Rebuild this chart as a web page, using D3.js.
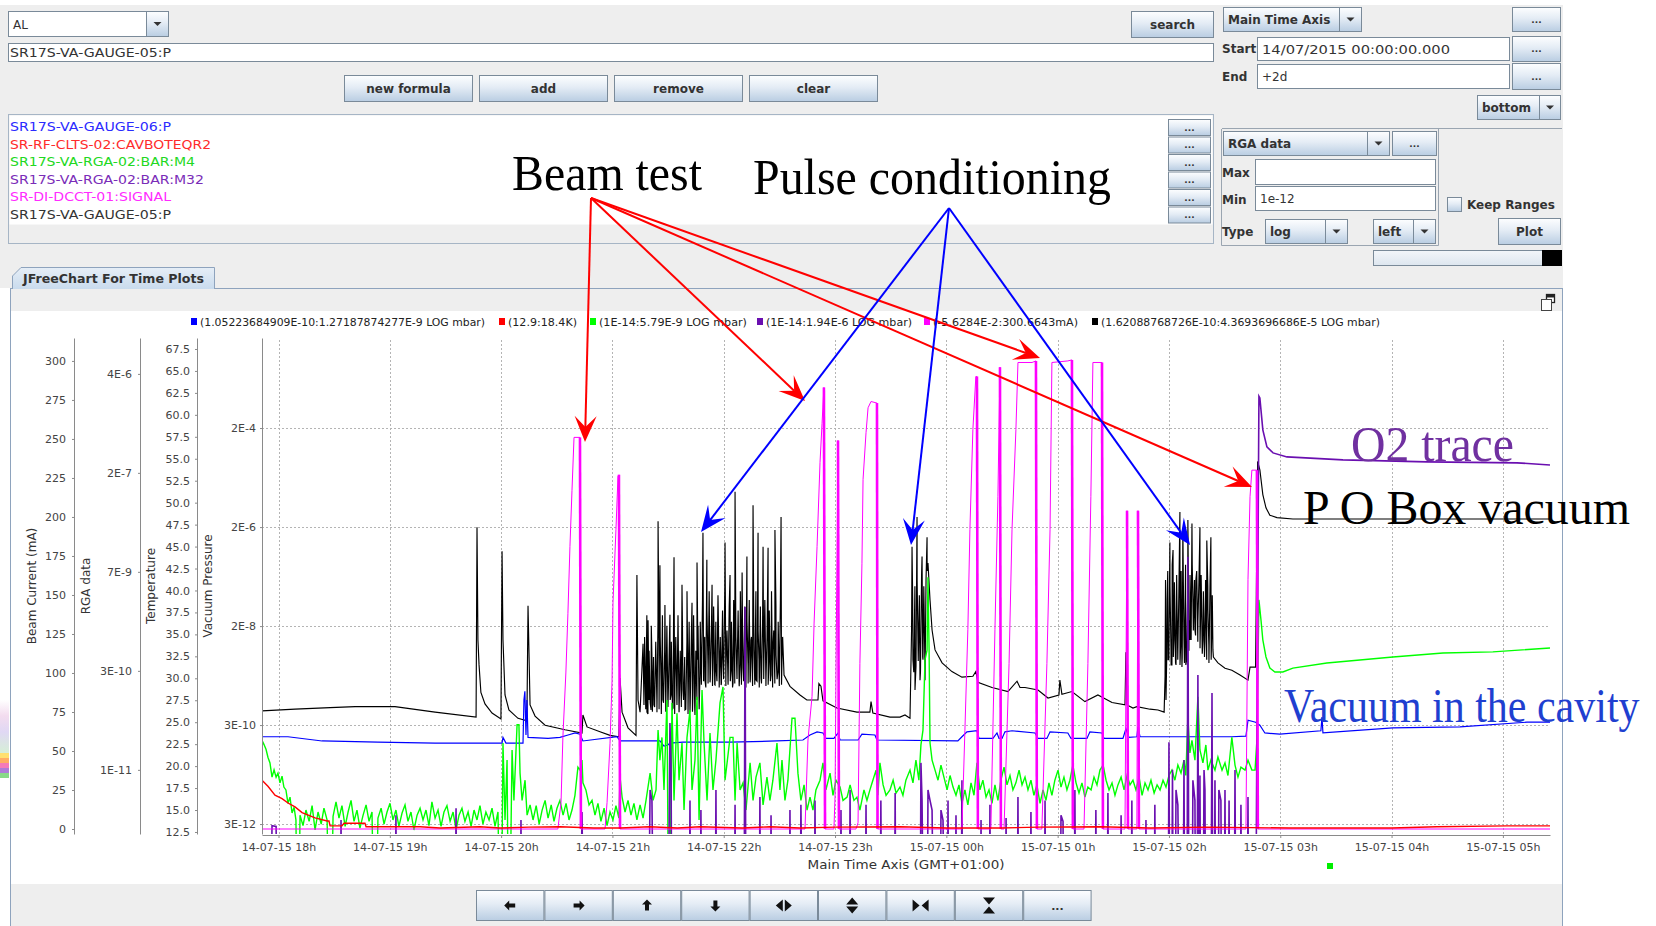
<!DOCTYPE html>
<html><head><meta charset="utf-8">
<script src="https://cdn.jsdelivr.net/npm/d3@7"></script>
<style>body{margin:0;background:#fff;overflow:hidden}svg{display:block;font-family:"DejaVu Sans",sans-serif}</style>
</head><body><svg id="c" width="1656" height="926"></svg>
<script>
// ================= DATA =================
const signalNames = ["SR17S-VA-GAUGE-06:P","SR-RF-CLTS-02:CAVBOTEQR2","SR17S-VA-RGA-02:BAR:M4","SR17S-VA-RGA-02:BAR:M32","SR-DI-DCCT-01:SIGNAL","SR17S-VA-GAUGE-05:P"];
const legendLabels = ["(1.05223684909E-10:1.27187874277E-9 LOG mbar)","(12.9:18.4K)","(1E-14:5.79E-9 LOG mbar)","(1E-14:1.94E-6 LOG mbar)","(-5.6284E-2:300.6643mA)","(1.62088768726E-10:4.3693696686E-5 LOG mbar)"];
const seriesColors = ["#0000ff","#ff0000","#00ff00","#6a0fb0","#ff00ff","#000000"];
const listColors = ["#2b2bff","#ff2b2b","#22d822","#7a2cb8","#ff2bff","#333333"];

const timeTickMinutes = [0,60,120,180,240,300,360,420,480,540,600,660];   // minutes after 14-07-15 18:00
const timeTickLabels = ["14-07-15 18h","14-07-15 19h","14-07-15 20h","14-07-15 21h","14-07-15 22h","14-07-15 23h","15-07-15 00h","15-07-15 01h","15-07-15 02h","15-07-15 03h","15-07-15 04h","15-07-15 05h"];
const timeRangeMinutes = [-8.9, 685.4];
const beamTicks = [0,25,50,75,100,125,150,175,200,225,250,275,300];
const beamRange = [-3.2, 314.7];
const tempTicks = [12.5,15,17.5,20,22.5,25,27.5,30,32.5,35,37.5,40,42.5,45,47.5,50,52.5,55,57.5,60,62.5,65,67.5];
const tempRange = [12.27, 68.75];
const rgaTickValues = [3.98e-6,1.66e-7,6.92e-9,2.88e-10,1.20e-11];
const rgaTickLabels = ["4E-6","2E-7","7E-9","3E-10","1E-11"];
const rgaRange = [1.53e-12, 1.26e-5];
const vacTickValues = [2.0e-4,2.21e-6,2.45e-8,2.72e-10,3.02e-12];
const vacTickLabels = ["2E-4","2E-6","2E-8","3E-10","3E-12"];
const vacRange = [1.92e-12, 1.20e-2];

// [minutes after 18:00, value]
const gauge05 = [
[-8.9,5.2e-10],[8.9,5.6e-10],[27.8,6.0e-10],[41.3,6.3e-10],[62.8,6.3e-10],[84.4,4.9e-10],[106.5,3.9e-10],
[107.0,2.2e-6],[107.5,1.3e-8],[108.1,4.2e-9],[109.1,1.2e-9],[111.3,7.1e-10],[115.1,4.7e-10],[119.9,3.6e-10],
[120.5,7.4e-7],[121.0,1.3e-8],[122.1,1.07e-9],[124.2,5.4e-10],[129.1,3.7e-10],[133.9,3.3e-10],
[134.5,6.2e-8],[135.6,6.8e-10],[138.3,4.1e-10],[143.7,2.7e-10],[154.4,2.2e-10],[163.6,1.9e-10],
[164.1,4.3e-10],[166.3,2.5e-10],[173.3,2.0e-10],[178.7,1.7e-10],[183.5,1.6e-10],
[184.1,2.3e-9],[185.2,4.9e-10],[188.4,2.4e-10],[192.7,1.7e-10],
[193.2,2.5e-7],[193.8,8.5e-10],[194.9,4.9e-10],[196.5,1.1e-8],[197.0,6.8e-10],[198.6,4.9e-10],
[199.2,3.2e-8],[199.7,8.5e-10],[200.8,5.4e-10],[201.3,5.9e-9],[202.4,6.8e-10],[204.0,4.9e-10],
[204.6,2.9e-6],[205.1,1.3e-8],[205.6,3.9e-7],[206.2,2.1e-9],[207.2,8.5e-10],[208.3,6.4e-8],[208.9,1.34e-9],[209.9,6.8e-10],
[211.0,4.1e-8],[211.6,1.07e-9],[212.7,5.9e-10],[213.2,5.6e-7],[213.7,2.1e-9],[214.8,6.8e-10],[215.9,4.9e-10],
[217.5,1.6e-7],[218.0,1.34e-9],[219.1,5.4e-10],[220.2,1.2e-7],[220.7,1.34e-9],[221.8,4.9e-10],
[222.9,7.1e-8],[223.4,1.07e-9],[224.5,4.3e-10],[225.6,4.4e-7],[226.1,5.3e-9],[227.2,2.65e-9],[227.7,5.3e-9],
[228.8,1.7e-6],[229.3,8.3e-9],[229.9,2.1e-9],[230.9,5.0e-7],[231.5,4.2e-9],[232.6,1.9e-9],
[233.7,1.6e-7],[234.2,3.6e-9],[235.3,1.68e-9],[235.8,4.2e-9],[236.9,1.0e-7],[237.5,3.3e-9],[238.6,1.68e-9],[239.6,5.3e-9],
[240.7,1.1e-6],[241.2,3.6e-9],[242.3,1.9e-9],[243.4,2.5e-7],[244.0,3.3e-9],[245.0,1.8e-9],
[246.1,1.1e-5],[246.6,1.3e-8],[247.2,3.3e-9],[248.3,1.68e-9],[248.8,4.2e-9],[249.9,2.8e-7],[250.4,3.6e-9],[251.5,1.8e-9],
[252.5,5.8e-7],[253.1,4.2e-9],[254.2,1.9e-9],[254.7,1.3e-8],[255.8,6.0e-6],[256.3,8.3e-9],[257.4,2.1e-9],
[258.5,1.7e-6],[259.0,5.3e-9],[260.1,2.3e-9],[261.2,9.0e-7],[261.7,6.6e-9],[262.8,2.3e-9],
[263.9,8.6e-7],[264.4,5.3e-9],[265.5,2.65e-9],[266.5,8.3e-9],[267.6,1.94e-6],[268.2,6.6e-9],[269.2,3.0e-9],
[270.9,3.5e-6],[271.4,5.3e-9],[272.5,2.65e-9],[275.7,1.58e-9],[281.1,1.07e-9],[284.8,8.5e-10],[290.8,8.5e-10],
[291.3,1.8e-9],[292.4,1.6e-9],[293.5,8.2e-10],[301.0,5.9e-10],[311.8,4.9e-10],[318.8,4.9e-10],[319.4,7.9e-10],[320.4,4.7e-10],
[329.6,3.9e-10],[335.0,3.9e-10],[337.7,4.3e-10],[340.4,3.7e-10],
[341.5,9.0e-7],[342.0,5.3e-9],[343.1,1.34e-9],[344.2,3.5e-6],[344.7,1.3e-8],[345.8,2.1e-9],[346.9,5.8e-7],[347.4,5.3e-9],[348.5,2.1e-9],
[349.6,1.4e-6],[350.1,4.3e-7],[351.2,8.0e-8],[352.3,2.05e-8],[353.9,8.3e-9],[357.7,4.6e-9],[363.0,3.1e-9],[368.4,2.4e-9],
[374.3,2.5e-9],[375.9,3.1e-9],[377.0,1.9e-9],[384.6,1.5e-9],[393.2,1.25e-9],[398.1,2.0e-9],[399.7,1.5e-9],[402.4,1.5e-9],
[409.4,1.34e-9],[414.8,9.3e-10],[420.7,1.07e-9],[421.2,2.1e-9],[422.3,1.1e-9],[427.7,1.25e-9],[434.7,7.9e-10],[441.7,1.07e-9],
[449.3,7.6e-10],[456.3,6.8e-10],[456.8,7.5e-9],[457.4,6.8e-10],[460.6,5.9e-10],[462.7,6.3e-10],[469.8,5.6e-10],[474.1,5.4e-10],[477.4,4.9e-10],
[477.9,2.5e-9],[478.4,8.5e-10],[479.0,8.0e-8],[479.5,5.3e-9],[480.5,1.1e-6],[481.1,8.3e-9],[481.6,4.2e-9],[482.2,7.8e-7],[482.7,1.3e-8],
[483.8,4.2e-9],[484.3,8.0e-8],[484.8,6.6e-9],[485.9,4.4e-6],[486.4,1.3e-8],[487.0,3.8e-9],[487.5,1.94e-6],[488.1,1.3e-8],[489.1,4.2e-9],
[490.2,3.05e-6],[490.8,3.2e-8],[491.3,1.3e-8],[492.4,2.6e-6],[492.9,8.0e-8],[494.0,2.05e-8],[494.5,2.0e-7],[495.6,3.0e-8],
[496.7,2.2e-6],[497.2,8.0e-8],[498.3,1.3e-8],[499.4,1.2e-8],[500.4,1.2e-6],[501.0,5.1e-8],[501.5,1.04e-8],[502.6,1.4e-6],[503.2,3.2e-8],[503.7,8.3e-9],
[506.4,4.6e-9],[510.2,3.6e-9],[513.9,3.3e-9],[518.3,2.65e-9],[522.6,2.1e-9],[523.7,3.8e-9],[526.7,3.8e-9],
[527.8,4.37e-5],[529.0,3.0e-5],[530.6,9.7e-6],[532.3,5.3e-6],[534.4,3.8e-6],[538.2,3.4e-6],[546.8,3.2e-6],[577.6,3.2e-6],[615.3,3.2e-6],[685.4,3.2e-6]
];
// dense pressure bursts during pulse conditioning (fast oscillation between band edges)
const gauge05Bursts = [
[197.35,1.5e-8],[197.95,5.6e-10],[198.55,4.0e-8],[199.15,4.5e-10],[199.75,8.0e-9],[200.35,7.5e-10],[200.95,2.5e-8],[201.55,5.0e-10],[202.15,6.0e-9],[202.75,6.2e-10],
[203.35,1.2e-8],[203.95,8.5e-10],[204.55,3.0e-8],[205.15,5.6e-10],[205.75,1.5e-8],[206.35,4.5e-10],[206.95,4.0e-8],[207.55,7.5e-10],[208.15,8.0e-9],[208.75,5.0e-10],
[209.35,2.5e-8],[209.95,6.2e-10],[210.55,6.0e-9],[211.15,8.5e-10],[211.75,1.2e-8],[212.35,5.6e-10],[212.95,3.0e-8],[213.55,4.5e-10],[214.15,1.5e-8],[214.75,7.5e-10],
[215.35,4.0e-8],[215.95,5.0e-10],[216.55,8.0e-9],[217.15,6.2e-10],[217.75,2.5e-8],[218.35,8.5e-10],[218.95,6.0e-9],[219.55,5.6e-10],[220.15,1.2e-8],[220.75,4.5e-10],
[221.35,3.0e-8],[221.95,7.5e-10],[222.55,1.5e-8],[223.15,5.0e-10],[223.75,4.0e-8],[224.35,6.2e-10],[224.95,8.0e-9],[225.55,8.5e-10],[226.15,2.5e-8],[226.75,5.6e-10],
[227.35,3.0e-8],[227.95,1.7e-9],[228.55,8.0e-8],[229.15,2.0e-9],[229.75,1.5e-8],[230.35,1.5e-9],[230.95,5.0e-8],[231.55,1.8e-9],[232.15,1.2e-7],[232.75,2.2e-9],
[233.35,2.0e-8],[233.95,1.6e-9],[234.55,6.0e-8],[235.15,1.7e-9],[235.75,3.0e-8],[236.35,2.0e-9],[236.95,8.0e-8],[237.55,1.5e-9],[238.15,1.5e-8],[238.75,1.8e-9],
[239.35,5.0e-8],[239.95,2.2e-9],[240.55,1.2e-7],[241.15,1.6e-9],[241.75,2.0e-8],[242.35,1.7e-9],[242.95,6.0e-8],[243.55,2.0e-9],[244.15,3.0e-8],[244.75,1.5e-9],
[245.35,8.0e-8],[245.95,1.8e-9],[246.55,1.5e-8],[247.15,2.2e-9],[247.75,5.0e-8],[248.35,1.6e-9],[248.95,1.2e-7],[249.55,1.7e-9],[250.15,2.0e-8],[250.75,2.0e-9],
[251.35,6.0e-8],[251.95,1.5e-9],[252.55,3.0e-8],[253.15,1.8e-9],[253.75,8.0e-8],[254.35,2.2e-9],[254.95,1.5e-8],[255.55,1.6e-9],[256.15,5.0e-8],[256.75,1.7e-9],
[257.35,1.2e-7],[257.95,2.0e-9],[258.55,2.0e-8],[259.15,1.5e-9],[259.75,6.0e-8],[260.35,1.8e-9],[260.95,3.0e-8],[261.55,2.2e-9],[262.15,8.0e-8],[262.75,1.6e-9],
[263.35,1.5e-8],[263.95,1.7e-9],[264.55,5.0e-8],[265.15,2.0e-9],[265.75,1.2e-7],[266.35,1.5e-9],[266.95,2.0e-8],[267.55,1.8e-9],[268.15,6.0e-8],[268.75,2.2e-9],
[269.35,3.0e-8],[269.95,1.6e-9],[270.55,8.0e-8],[271.15,1.7e-9],[271.75,1.5e-8],
[341.25,2.0e-8],[341.85,8.0e-8],[342.45,3.0e-9],[343.05,1.5e-7],[343.65,4.0e-9],[344.25,2.0e-7],[344.85,5.0e-9],[345.45,1.0e-7],[346.05,3.0e-9],[346.65,2.5e-7],
[347.25,6.0e-9],[347.85,1.5e-7],[348.45,4.0e-9],[349.05,2.0e-7],[349.65,3.0e-7],
[478.15,2.0e-7],[478.75,4.6e-9],[479.35,3.0e-7],[479.95,5.3e-9],[480.55,1.5e-7],[481.15,4.2e-9],[481.75,4.0e-7],[482.35,6.0e-9],[482.95,1.8e-7],[483.55,4.6e-9],
[484.15,2.5e-7],[484.75,5.3e-9],[485.35,1.2e-7],[485.95,4.2e-9],[486.55,3.0e-7],[487.15,6.0e-9],[487.75,2.0e-7],[488.35,4.6e-9],[488.95,4.0e-7],[489.55,5.3e-9],
[490.15,1.5e-7],[490.75,8.0e-9],[491.35,2.5e-7],[491.95,1.3e-8],[492.55,4.0e-7],[493.15,2.0e-8],[493.75,2.0e-7],[494.35,1.6e-8],[494.95,3.0e-7],[495.55,1.2e-8],
[496.15,1.8e-7],[496.75,9.0e-9],[497.35,2.5e-7],[497.95,7.0e-9],[498.55,1.2e-7],[499.15,6.0e-9],[499.75,2.0e-7],[500.35,5.3e-9],[500.95,1.5e-7],[501.55,4.6e-9],
[502.15,1.8e-7],[502.75,5.3e-9],[503.35,1.0e-7],[503.95,6.0e-9]
];
const gauge06 = [
[-8.9,1.6e-10],[5.1,1.6e-10],[23.5,1.32e-10],[53.6,1.25e-10],[84.4,1.2e-10],[114.0,1.2e-10],[120.5,1.2e-10],[121.0,1.55e-10],[122.6,1.2e-10],
[131.8,1.2e-10],[132.3,8.5e-10],[132.8,1.27e-9],[133.4,1.73e-10],[133.9,8.5e-10],[134.5,1.55e-10],[145.3,1.48e-10],[151.7,1.55e-10],[156.1,1.73e-10],
[159.9,1.9e-10],[162.5,1.8e-10],[164.1,1.32e-10],[182.5,1.6e-10],[184.1,1.32e-10],[205.6,1.32e-10],[207.8,1.05e-10],[209.9,1.1e-10],[211.0,1.2e-10],
[218.0,1.25e-10],[243.4,1.25e-10],[268.7,1.32e-10],[282.7,1.38e-10],[286.5,1.73e-10],[290.3,2.0e-10],[293.5,1.9e-10],[295.1,1.48e-10],[299.4,1.48e-10],
[301.6,1.9e-10],[302.7,1.38e-10],[312.4,1.38e-10],[314.5,1.8e-10],[321.5,1.73e-10],[322.6,1.38e-10],[366.2,1.32e-10],[368.4,1.6e-10],[371.1,2.0e-10],
[376.5,2.1e-10],[377.6,1.48e-10],[385.1,1.48e-10],[387.3,1.9e-10],[388.4,1.48e-10],[390.0,1.48e-10],[391.6,2.0e-10],[395.4,2.1e-10],[407.8,1.9e-10],
[409.4,1.48e-10],[414.2,1.48e-10],[415.9,2.0e-10],[425.5,1.9e-10],[427.2,1.48e-10],[435.8,1.48e-10],[437.4,2.0e-10],[443.9,1.9e-10],[445.0,1.48e-10],
[455.2,1.48e-10],[456.8,2.3e-10],[458.4,1.55e-10],[462.7,1.6e-10],[463.3,2.5e-10],[464.4,1.6e-10],[513.9,1.6e-10],[521.5,1.65e-10],[522.6,3.4e-10],
[526.7,3.1e-10],[529.0,2.7e-10],[531.7,1.9e-10],[539.8,1.8e-10],[561.9,2.1e-10],[562.5,3.9e-10],[563.0,1.9e-10],[600.7,2.4e-10],[636.9,2.5e-10],[673.0,3.1e-10],[685.4,3.1e-10]
];
const cavTemp = [
[-8.9,18.4],[-5.7,17.7],[-1.9,16.7],[1.9,16.3],[5.1,15.8],[8.9,15.35],[12.7,14.7],[19.7,14.1],[26.2,13.75],[27.2,13.75],
[27.8,13.2],[34.2,13.2],[35.3,13.5],[46.6,13.5],[47.2,13.1],[76.3,13.1],[87.1,12.95],[108.6,13.1],[119.4,12.95],
[135.0,13.05],[151.7,13.1],[170.0,12.95],[184.1,12.95],[200.0,13.1],[215.0,12.95],[227.2,13.1],[250.0,12.95],[265.0,13.1],[281.1,12.95],
[300.0,13.05],[335.0,13.1],[360.0,12.95],[388.9,12.95],[410.0,13.05],[442.8,13.1],[470.0,12.95],[500.0,13.05],[523.7,13.0],[545.2,12.95],[600.0,12.95],
[624.4,13.1],[662.2,13.2],[685.4,13.2]
];
const rgaM4 = [
[-8.9,3.1e-11],[-7.8,2.7e-11],[-6.7,2.3e-11],[-5.7,1.8e-11],[-4.6,1.5e-11],[-3.5,9.5e-12],[-2.4,1.2e-11],[-1.3,9.5e-12],[-0.3,1.08e-11],
[0.8,7.9e-12],[1.9,9.8e-12],[2.9,6.9e-12],[4.0,6.3e-12],[5.1,4.1e-12],[6.2,5.0e-12],[7.3,3.0e-12],[8.4,3.6e-12],[9.4,2.4e-12],[10.5,1e-14],
[11.6,2.8e-12],[13.2,2.0e-12],[14.8,3.3e-12],[16.5,2.3e-12],[18.1,3.8e-12],[19.7,1.74e-12],[21.3,3.1e-12],[23.0,2.1e-12],[24.5,3.5e-12],[26.2,2.4e-12],
[27.8,1e-14],[29.4,2.7e-12],[31.0,4.3e-12],[32.6,2.55e-12],[34.2,3.8e-12],[35.9,1.95e-12],[37.5,3.1e-12],[39.1,4.5e-12],[40.7,2.3e-12],[42.3,3.3e-12],
[43.9,1.85e-12],[45.6,2.8e-12],[47.2,3.9e-12],[48.8,2.3e-12],[50.4,3.1e-12],[52.0,1e-14],[53.6,2.55e-12],[55.3,3.5e-12],[56.9,2.1e-12],[58.5,3.1e-12],
[60.1,4.1e-12],[61.7,2.4e-12],[63.3,3.3e-12],[64.9,1.95e-12],[66.6,3.0e-12],[68.2,3.9e-12],[69.8,2.3e-12],[71.4,3.1e-12],[73.0,1.74e-12],[74.7,2.8e-12],
[76.3,3.5e-12],[77.9,2.4e-12],[79.5,3.3e-12],[81.1,2.0e-12],[82.7,4.3e-12],[84.4,2.55e-12],[86.0,3.3e-12],[87.6,1.95e-12],[89.2,3.1e-12],[90.8,3.8e-12],
[92.5,2.3e-12],[94.1,3.1e-12],[95.7,1.74e-12],[97.3,2.8e-12],[98.9,3.5e-12],[100.5,2.3e-12],[102.2,3.1e-12],[103.8,1.95e-12],[105.4,3.3e-12],[107.0,2.4e-12],
[108.6,3.8e-12],[110.2,2.1e-12],[111.8,3.1e-12],[113.5,2.4e-12],[115.1,3.5e-12],[116.7,1.95e-12],[118.3,3.1e-12],
[119.9,1e-14],[121.0,2.84e-11],[122.1,2.4e-12],[123.2,1.64e-11],[124.2,1e-14],[125.9,2.27e-11],[126.9,4.5e-12],[128.6,5.1e-11],[129.6,5.1e-11],[130.2,1.08e-11],
[131.3,4.5e-12],[132.9,8.6e-12],[134.0,2.8e-12],[135.6,3.9e-12],[137.2,2.4e-12],[138.9,3.8e-12],[140.5,2.1e-12],[142.1,3.3e-12],[143.7,4.5e-12],[145.3,2.55e-12],
[147.0,3.9e-12],[148.5,2.3e-12],[150.1,3.5e-12],[151.7,4.5e-12],[153.4,2.8e-12],[155.0,4.1e-12],[156.6,2.4e-12],[158.2,3.3e-12],[159.8,5.3e-12],[161.4,1.31e-11],
[162.5,1.19e-11],[163.6,1.64e-11],[164.1,7.9e-12],[165.7,6.3e-12],[167.4,3.9e-12],[169.0,4.5e-12],[170.6,2.8e-12],[172.2,4.1e-12],[173.8,2.3e-12],[175.5,3.5e-12],
[177.1,2.0e-12],[178.7,3.1e-12],[180.3,2.4e-12],[181.9,3.8e-12],[183.5,2.55e-12],[184.1,9.5e-12],[185.2,5.0e-12],[186.8,3.1e-12],[188.4,4.5e-12],[190.0,2.8e-12],
[191.6,4.1e-12],[193.2,2.4e-12],[194.9,3.9e-12],[196.5,2.55e-12],[198.1,4.5e-12],[200.3,1.08e-11],[201.9,4.5e-12],[203.5,6.3e-12],[204.6,4.3e-11],[205.6,1.64e-11],
[206.7,3.4e-11],[207.8,6.3e-12],[209.4,1.13e-10],[210.5,1e-14],[212.1,1.03e-10],[213.2,4.5e-12],[214.8,7.4e-11],[215.9,8.6e-12],[217.5,2.84e-11],[218.6,3.3e-12],
[220.2,3.4e-11],[221.8,8.2e-11],[222.9,6.3e-12],[224.5,1.64e-11],[225.6,1.25e-10],[226.7,2.4e-12],[228.3,1.56e-10],[229.4,2.84e-11],[231.0,4.5e-12],[232.6,3.9e-11],
[234.2,6.3e-12],[235.8,1.64e-11],[238.0,1.03e-10],[239.6,1.72e-10],[240.7,8.6e-12],[241.8,1.5e-11],[243.4,3.4e-11],[245.0,3.4e-11],[246.1,4.5e-12],[247.2,2.84e-11],
[248.8,6.3e-12],[250.4,7.9e-12],[252.0,3.3e-12],[254.2,1.5e-11],[255.8,4.5e-12],[257.4,9.5e-12],[259.5,1.5e-11],[261.2,3.9e-12],[263.3,9.5e-12],[264.9,4.5e-12],
[266.5,8.6e-12],[268.7,2.84e-11],[270.3,6.3e-12],[271.4,1.64e-11],[273.0,4.5e-12],[274.6,8.6e-12],[276.8,6.3e-11],[278.4,6.3e-11],[280.0,1.08e-11],[281.6,4.5e-12],
[283.3,7.4e-12],[284.9,3.3e-12],[286.5,5.0e-12],[288.1,3.3e-12],[289.7,6.3e-12],[291.9,8.6e-12],[293.5,1.5e-11],[295.1,6.3e-12],[297.3,1.08e-11],[298.9,5.3e-12],
[300.5,8.6e-12],[302.7,6.9e-12],[304.3,4.5e-12],[306.5,5.0e-12],[308.1,7.4e-12],[310.2,4.5e-12],[311.8,5.0e-12],[313.4,3.3e-12],[315.6,6.3e-12],[317.2,4.5e-12],
[318.8,6.3e-12],[320.4,8.6e-12],[322.1,1.19e-11],[323.1,5.3e-12],[324.2,1.5e-11],[325.9,7.4e-12],[327.5,5.3e-12],[329.6,6.3e-12],[331.3,8.6e-12],[332.9,5.7e-12],
[335.0,6.9e-12],[336.6,5.3e-12],[338.2,8.6e-12],[340.4,1.19e-11],[342.0,7.9e-12],[343.6,1.64e-11],[345.2,8.6e-12],[346.3,2.67e-11],[347.4,4.3e-11],[348.5,4.1e-10],
[349.6,5.6e-10],[350.1,5.79e-9],[350.7,5.6e-10],[351.2,2.84e-11],[352.3,1.64e-11],[353.9,1.19e-11],[355.5,8.6e-12],[357.1,1.4e-11],[358.7,9.5e-12],[360.4,6.3e-12],
[362.0,1.0e-11],[363.6,6.9e-12],[365.2,5.3e-12],[366.8,7.4e-12],[368.4,4.1e-12],[370.0,6.3e-12],[371.6,3.9e-12],[373.3,7.9e-12],[374.9,5.3e-12],[376.5,1.5e-11],
[378.1,6.3e-12],[379.7,8.6e-12],[381.4,5.0e-12],[383.0,6.3e-12],[384.6,4.1e-12],[386.2,7.4e-12],[387.8,4.5e-12],[389.4,8.6e-12],[391.1,1.31e-11],[392.7,7.4e-12],
[394.3,1.0e-11],[395.9,6.3e-12],[397.5,7.9e-12],[399.2,1.19e-11],[400.8,7.4e-12],[402.4,9.5e-12],[404.0,6.3e-12],[405.6,8.6e-12],[407.2,5.3e-12],[408.8,7.4e-12],
[410.5,4.1e-12],[412.1,6.3e-12],[413.7,4.5e-12],[415.3,7.9e-12],[416.9,5.3e-12],[418.5,8.6e-12],[420.2,1.19e-11],[421.8,6.9e-12],[423.4,9.5e-12],[425.0,6.3e-12],
[426.6,8.6e-12],[428.2,1.4e-11],[429.9,7.9e-12],[431.5,5.7e-12],[433.1,7.9e-12],[434.7,5.0e-12],[436.3,6.9e-12],[438.0,6.3e-12],[439.6,9.5e-12],[441.2,7.4e-12],
[442.8,1.19e-11],[444.5,1.4e-11],[446.1,8.6e-12],[447.7,6.3e-12],[449.3,7.9e-12],[450.9,5.3e-12],[452.5,7.4e-12],[454.2,9.5e-12],[455.8,6.3e-12],[457.4,1.0e-11],
[459.0,7.4e-12],[460.6,8.6e-12],[462.2,6.3e-12],[463.9,9.5e-12],[465.5,5.3e-12],[467.1,7.9e-12],[468.7,6.3e-12],[470.3,8.6e-12],[472.0,5.7e-12],[473.6,7.4e-12],
[475.2,6.3e-12],[476.8,8.6e-12],[478.4,6.9e-12],[480.0,1.0e-11],[481.6,1.19e-11],[483.2,8.6e-12],[484.8,1.4e-11],[486.5,1.08e-11],[488.1,1.64e-11],[489.1,1.0e-11],
[490.2,6.5e-11],[491.3,2.06e-11],[492.4,3.1e-11],[494.0,1.64e-11],[495.6,1.25e-10],[496.7,2.27e-11],[498.3,1.5e-11],[499.9,2.67e-11],[501.0,1.19e-11],[502.6,1.64e-11],
[504.8,1.19e-11],[506.4,1.81e-11],[508.6,1.19e-11],[510.2,1.5e-11],[511.8,1.0e-11],[513.9,3.4e-11],[515.6,1.4e-11],[517.2,9.5e-12],[518.8,1.31e-11],[521.0,1.19e-11],
[522.6,1.64e-11],[524.7,1.19e-11],[526.4,1.19e-11],[527.4,3.1e-11],[528.5,2.81e-9],[529.6,1.48e-9],[530.6,7.8e-10],[532.3,4.5e-10],[534.4,3.15e-10],[537.1,2.78e-10],
[541.4,2.78e-10],[546.8,3.15e-10],[565.1,3.7e-10],[600.7,4.5e-10],[627.7,5.1e-10],[654.6,5.3e-10],[685.4,6.0e-10]
];
const rgaM32 = [
[-8.9,1e-14],[-4.6,1e-14],[-3.5,2.0e-12],[-1.3,1.95e-12],[-0.3,1e-14],
[33.2,1e-14],[33.7,2.4e-12],[34.2,1e-14],[62.8,1e-14],[63.3,2.8e-12],[63.9,1e-14],
[95.1,1e-14],[95.7,3.5e-12],[96.2,1e-14],[130.2,1e-14],[130.7,2.4e-12],[131.3,1e-14],
[162.5,1e-14],[163.6,3.1e-12],[164.7,1e-14],[199.2,1e-14],[200.3,6.3e-12],[201.3,4.5e-12],[202.4,1e-14],
[209.9,1e-14],[211.0,5.4e-11],[211.6,1.5e-11],[212.1,1e-14],[227.2,1e-14],[227.7,3.3e-12],[228.3,1e-14],
[250.9,1e-14],[251.5,2.24e-9],[252.0,1e-14],[264.9,1e-14],[265.5,2.8e-12],[266.0,1e-14],
[281.1,1e-14],[281.6,3.9e-12],[282.7,1e-14],[302.7,1e-14],[303.2,3.3e-12],[303.8,1e-14],
[324.2,1e-14],[324.7,4.5e-12],[325.3,1e-14],[345.8,1e-14],[346.3,1.5e-11],[346.9,4.5e-12],[347.9,1e-14],
[349.6,1e-14],[350.1,6.3e-12],[351.2,4.5e-12],[352.3,3.3e-12],[353.4,1e-14],[356.6,1e-14],[357.1,3.3e-12],[358.2,2.4e-12],[359.3,1e-14],
[364.6,1e-14],[365.2,2.8e-12],[365.7,1e-14],[378.1,1e-14],[378.7,2.4e-12],[379.2,1e-14],
[391.6,1e-14],[392.2,2.55e-12],[392.7,1e-14],[405.1,1e-14],[405.6,3.1e-12],[406.2,1e-14],
[421.2,1e-14],[421.8,2.8e-12],[422.9,2.3e-12],[423.4,1e-14],[440.1,1e-14],[440.6,3.3e-12],[441.2,1e-14],
[453.6,1e-14],[454.2,2.8e-12],[454.7,1e-14],[467.1,1e-14],[467.6,2.4e-12],[468.2,1e-14],
[479.5,1e-14],[480.0,2.9e-11],[480.5,1e-14],[483.2,1e-14],[483.8,6.3e-12],[484.8,3.9e-12],[485.9,1e-14],
[487.5,1e-14],[488.1,1.64e-11],[488.6,1e-14],[489.7,1e-14],[490.2,1.12e-8],[490.8,1e-14],
[492.4,1e-14],[492.9,8.6e-12],[494.0,4.5e-12],[494.5,1e-14],[495.1,1e-14],[495.6,2.52e-10],[496.1,1e-14],
[498.3,1e-14],[498.9,1.19e-11],[499.4,6.3e-12],[499.9,1e-14],[502.6,1e-14],[503.2,1.42e-10],[503.7,1e-14],
[506.4,1e-14],[506.9,6.3e-12],[508.0,4.5e-12],[508.6,1e-14],[511.8,1e-14],[512.4,4.5e-12],[512.9,1e-14],
[518.3,1e-14],[518.8,3.9e-12],[519.4,1e-14],[526.7,1e-14],[527.2,4.5e-12],
[528.5,1.94e-6],[529.0,1.84e-6],[530.6,6.6e-7],[532.8,3.82e-7],[536.1,3.15e-7],[543.6,2.77e-7],[573.8,2.52e-7],[619.1,2.36e-7],[667.6,2.29e-7],[685.4,2.14e-7]
];
// extra short M32 bursts near the floor
const rgaM32Bursts = [
[221.3,1e-14],[221.8,4.5e-12],[222.3,1e-14],[235.3,1e-14],[235.8,6.3e-12],[236.3,1e-14],[245.6,1e-14],[246.1,3.9e-12],[246.6,1e-14],
[259.0,1e-14],[259.5,5.0e-12],[260.0,1e-14],[275.2,1e-14],[275.7,3.3e-12],[276.2,1e-14],[288.7,1e-14],[289.2,4.5e-12],[289.7,1e-14],
[307.6,1e-14],[308.1,6.3e-12],[308.6,1e-14],[316.2,1e-14],[316.7,3.9e-12],[317.2,1e-14],[331.9,1e-14],[332.4,5.7e-12],[332.9,1e-14],
[360.4,1e-14],[360.9,4.5e-12],[361.4,1e-14],[367.9,1e-14],[368.4,8.6e-12],[368.9,1e-14],[383.0,1e-14],[383.5,3.9e-12],[384.0,1e-14],
[398.1,1e-14],[398.6,5.0e-12],[399.1,1e-14],[412.7,1e-14],[413.2,4.5e-12],[413.7,1e-14],[428.8,1e-14],[429.3,6.3e-12],[429.8,1e-14],
[446.6,1e-14],[447.1,5.7e-12],[447.6,1e-14],[459.5,1e-14],[460.0,4.5e-12],[460.5,1e-14],[471.9,1e-14],[472.4,3.9e-12],[472.9,1e-14],
[481.4,1e-14],[481.9,1.2e-11],[482.4,1e-14],[496.4,1e-14],[496.7,1.0e-11],[497.2,1e-14],[504.3,1e-14],[504.8,8.6e-12],[505.3,1e-14],
[509.7,1e-14],[510.2,6.3e-12],[510.7,1e-14],[515.1,1e-14],[515.6,1.19e-11],[516.1,1e-14],[522.1,1e-14],[522.6,5.0e-12],[523.1,1e-14]
];
const dcct = [
[-8.9,0],[150.6,0],[152.3,17],[153.3,59],[154.9,100],[156.0,138],[157.1,181],[158.2,217],[159.3,251],[162.5,251],[163.0,0],
[176.0,0],[177.1,17],[178.7,55],[179.8,95],[180.3,145],[181.9,192],[183.0,226],[183.5,227],[184.1,0],
[283.8,0],[285.4,57],[287.6,85],[288.7,132],[290.3,181],[291.9,235],[293.0,260],[294.0,283],[294.6,0],
[299.4,0],[300.0,20.5],[301.0,170],[301.6,249],[302.1,0],
[311.3,0],[312.4,4],[313.4,106],[314.5,170],[315.1,224],[316.7,254],[317.8,270],[319.4,274],[322.6,273],[322.9,0],
[368.4,0],[370.0,63],[371.6,128],[372.7,192],[374.3,256],[375.9,290],[376.5,290],[377.0,0],
[384.0,0],[386.2,128],[387.8,213],[388.9,296],[389.4,0],
[391.1,0],[393.8,106],[395.4,192],[397.5,256],[398.6,299],[406.2,299],[408.3,300],[408.8,0],
[411.5,0],[414.2,106],[415.9,192],[416.9,299],[425.5,300],[427.7,300.66],[428.2,0],
[434.2,0],[436.3,106],[437.9,213],[439.0,299],[443.9,299],[444.4,0],
[456.3,0],[457.4,204],[457.9,0],
[462.7,0],[463.3,204],[463.8,0],
[521.5,0],[522.6,160],[523.7,213],[524.7,230],[527.4,230],[527.9,0],[685.4,0]
];

// ================= LAYOUT =================
const W = 1656, H = 926;
const P = {left:262, right:1550, top:338, bottom:834};
const svg = d3.select("#c");
const defs = svg.append("defs");
function grad(id, stops){const g=defs.append("linearGradient").attr("id",id).attr("x1",0).attr("y1",0).attr("x2",0).attr("y2",1);
  stops.forEach(s=>g.append("stop").attr("offset",s[0]).attr("stop-color",s[1]));}
grad("gBtn",[["0%","#fdfeff"],["45%","#e4ecf5"],["100%","#b9cde2"]]);
grad("gTab",[["0%","#e6eef7"],["100%","#c9dbed"]]);
grad("gBar",[["0%","#f3f6fa"],["100%","#dde6ef"]]);
grad("gSwoosh",[["0%","#ffffff"],["30%","#f3dcef"],["60%","#e0d8f4"],["100%","#d6efd6"]]);
defs.append("clipPath").attr("id","plotClip").append("rect").attr("x",P.left).attr("y",P.top).attr("width",P.right-P.left).attr("height",P.bottom-P.top);

svg.append("rect").attr("width",W).attr("height",H).attr("fill","#fff");
svg.append("rect").attr("x",0).attr("y",5).attr("width",1563).attr("height",283).attr("fill","#eeeeee");
// slide background peeking out at the far left
svg.append("rect").attr("x",0).attr("y",700).attr("width",9).attr("height",53).attr("fill","url(#gSwoosh)");
[["#ffd84a",753],["#ff9a3c",758],["#f25aa8",763],["#9a5ad0",768],["#6ad06a",773]].forEach(s=>
  svg.append("rect").attr("x",0).attr("y",s[1]).attr("width",9).attr("height",5).attr("fill",s[0]).attr("opacity",0.8));

const UI = svg.append("g");
const TXT = "#333";
function rect(x,y,w,h,fill,stroke){return UI.append("rect").attr("x",x+0.5).attr("y",y+0.5).attr("width",w-1).attr("height",h-1).attr("fill",fill).attr("stroke",stroke||"none");}
function label(x,y,t,o={}){const e=UI.append("text").attr("x",x).attr("y",y).attr("font-size",o.size||12).attr("font-weight",o.bold?"bold":"normal")
  .attr("fill",o.fill||TXT).attr("text-anchor",o.anchor||"start").text(t);
  if(o.len) e.attr("textLength",o.len).attr("lengthAdjust","spacingAndGlyphs"); return e;}
function button(x,y,w,h,t,size){rect(x,y,w,h,"url(#gBtn)","#7a8a99");
  if(t) label(x+w/2,y+h/2+(size?3:4.5),t,{bold:true,anchor:"middle",size:size||12});}
function field(x,y,w,h,t,len){rect(x,y,w,h,"#fff","#7a8a99"); if(t!==undefined) label(x+5,y+h/2+4.5,t,{size:len?12.5:12,len:len});}
function tri(cx,cy){UI.append("path").attr("d",`M${cx-4},${cy-2}L${cx+4},${cy-2}L${cx},${cy+2}Z`).attr("fill","#333");}
function combo(x,y,w,h,t,arrowW,editable){
  rect(x,y,w,h,editable?"#fff":"url(#gBtn)","#7a8a99");
  rect(x+w-arrowW,y,arrowW,h,"url(#gBtn)","#7a8a99");
  tri(x+w-arrowW/2,y+h/2);
  label(x+5,y+h/2+4.5,t,{bold:!editable});
}

// ---- top-left controls ----
combo(8,11,161,26,"AL",23,true);
button(1131,11,83,27,"search");
rect(8,43,1206,19,"#fff","#7a8a99"); label(10,57,"SR17S-VA-GAUGE-05:P",{size:12.5,len:161});
[["new formula",344],["add",479],["remove",614],["clear",749]].forEach(b=>button(b[1],75,129,27,b[0]));
rect(8,114,1206,130,"#eeeeee","#a6b5c5");
rect(9,115,1204,110,"#fff",null);
const listY0 = 126.7, listDy = 17.55, listTextW = [161,201,185,194,161,161];
signalNames.forEach((s,i)=>label(10,listY0+i*listDy+4.5,s,{fill:listColors[i],size:12.5,len:listTextW[i]}));
signalNames.forEach((s,i)=>button(1168,119+i*17.5,43,17,"...",9));

// ---- top-right controls ----
combo(1223,7,139,25,"Main Time Axis",23,false);
button(1512,7,49,25,"...",9);
label(1222,53,"Start",{bold:true}); field(1257,37,253,24,"14/07/2015 00:00:00.000",188); button(1512,36,49,26,"...",9);
label(1222,80.5,"End",{bold:true}); field(1257,64,253,25,"+2d"); button(1512,63,49,27,"...",9);
combo(1477,95,84,25,"bottom",22,false);
UI.append("line").attr("x1",1222).attr("x2",1562).attr("y1",128.5).attr("y2",128.5).attr("stroke","#9aa5b1");
UI.append("path").attr("d","M1221.5,129V245.5H1438.5V129").attr("fill","none").attr("stroke","#9aa5b1");
combo(1223,131,167,25,"RGA data",23,false);
button(1392,131,45,25,"...",9);
label(1222,177,"Max",{bold:true}); field(1255,159,181,26,"");
label(1222,203.5,"Min",{bold:true}); field(1255,186,181,25,"1e-12");
label(1222,235.5,"Type",{bold:true});
combo(1265,219,83,25,"log",23,false);
combo(1373,219,63,25,"left",23,false);
rect(1447,197,15,15,"url(#gBtn)","#7a8a99");
label(1467,209,"Keep Ranges",{bold:true});
button(1498,218,63,27,"Plot");
rect(1373,250,189,16,"url(#gBar)","#7a8a99");
UI.append("rect").attr("x",1542).attr("y",250).attr("width",20).attr("height",16).attr("fill","#000");

// ---- chart panel ----
UI.append("rect").attr("x",10.5).attr("y",288.5).attr("width",1552).attr("height",640).attr("fill","#eeeeee").attr("stroke","#8ea3bd");
UI.append("rect").attr("x",11).attr("y",311).attr("width",1551).attr("height",573).attr("fill","#fff");
UI.append("path").attr("d","M12.5,289V276L21,267.5H214.5V289").attr("fill","url(#gTab)").attr("stroke","#8ea3bd");
label(23,283,"JFreeChart For Time Plots",{bold:true,len:181});
UI.append("rect").attr("x",1546.5).attr("y",294.5).attr("width",8).attr("height",8).attr("fill","#fff").attr("stroke","#222").attr("stroke-width",1.3);
UI.append("rect").attr("x",1541.5).attr("y",299.5).attr("width",10).attr("height",11).attr("fill","#fff").attr("stroke","#444");
UI.append("rect").attr("x",1546.5).attr("y",294.5).attr("width",8).attr("height",3).attr("fill","#222");

// ---- legend ----
const legendTextX = [200,508,599,766,933,1101], legendTextW = [285,69,148,146,145,279];
legendLabels.forEach((t,i)=>{
  UI.append("rect").attr("x",legendTextX[i]-9).attr("y",318).attr("width",6).attr("height",7).attr("fill",seriesColors[i]);
  UI.append("text").attr("x",legendTextX[i]).attr("y",326).attr("font-size",11).attr("fill","#222")
    .attr("textLength",legendTextW[i]).attr("lengthAdjust","spacingAndGlyphs").text(t);
});

// ================= SCALES =================
const base = new Date(2015,6,14,18,0,0);
const toDate = m => new Date(base.getTime()+m*60000);
const x = d3.scaleTime().domain(timeRangeMinutes.map(toDate)).range([P.left,P.right]);
const yVac = d3.scaleLog().domain(vacRange).range([P.bottom,P.top]);
const yRga = d3.scaleLog().domain(rgaRange).range([P.bottom,P.top]);
const yTemp = d3.scaleLinear().domain(tempRange).range([P.bottom,P.top]);
const yBeam = d3.scaleLinear().domain(beamRange).range([P.bottom,P.top]);

const grid = svg.append("g").attr("stroke","#b4b4b4").attr("stroke-dasharray","2,2").attr("stroke-width",1);
timeTickMinutes.forEach(m=>{const xx=Math.round(x(toDate(m)))+0.5; grid.append("line").attr("x1",xx).attr("x2",xx).attr("y1",P.top+2).attr("y2",P.bottom);});
vacTickValues.forEach(v=>{const yy=Math.round(yVac(v))+0.5; grid.append("line").attr("x1",P.left).attr("x2",P.right).attr("y1",yy).attr("y2",yy);});

const plot = svg.append("g").attr("clip-path","url(#plotClip)");
function drawSeries(data, yS, color, w){
  const line = d3.line().x(d=>x(toDate(d[0]))).y(d=>yS(d[1]));
  plot.append("path").datum(data).attr("d",line).attr("fill","none").attr("stroke",color).attr("stroke-width",w||1).attr("stroke-linejoin","miter");
}
const byTime = d=>d[0];
drawSeries(d3.sort(gauge05.concat(gauge05Bursts), byTime), yVac, seriesColors[5], 1.15);
drawSeries(gauge06, yVac, seriesColors[0], 1.2);
drawSeries(rgaM4, yRga, seriesColors[2], 1.4);
drawSeries(d3.sort(rgaM32.concat(rgaM32Bursts), byTime), yRga, seriesColors[3], 1.6);
drawSeries(dcct, yBeam, seriesColors[4], 1);
dcct.forEach((d,i)=>{ if(i>0 && d[1]===0 && dcct[i-1][1]>50 && d[0]-dcct[i-1][0]<1){
  plot.append("line").attr("x1",x(toDate(dcct[i-1][0]))).attr("x2",x(toDate(d[0]))).attr("y1",yBeam(dcct[i-1][1])).attr("y2",yBeam(d[1]))
   .attr("stroke",seriesColors[4]).attr("stroke-width",2.6);}});
drawSeries(cavTemp, yTemp, seriesColors[1], 1.4);

function styleAxis(g){
  g.attr("font-family","DejaVu Sans").attr("font-size",11);
  g.select(".domain").attr("stroke","#8a8a8a");
  g.selectAll(".tick line").attr("stroke","#8a8a8a");
  g.selectAll(".tick text").attr("fill","#444");
}
svg.append("g").attr("transform",`translate(0,${P.bottom+1})`)
  .call(d3.axisBottom(x).tickValues(timeTickMinutes.map(toDate)).tickFormat((d,i)=>timeTickLabels[i]).tickSize(3).tickSizeOuter(0).tickPadding(5)).call(styleAxis);
svg.append("g").attr("transform",`translate(${P.left},0)`)
  .call(d3.axisLeft(yVac).tickValues(vacTickValues).tickFormat((d,i)=>vacTickLabels[i]).tickSize(2).tickSizeOuter(0).tickPadding(4)).call(styleAxis);
svg.append("g").attr("transform","translate(197,0)")
  .call(d3.axisLeft(yTemp).tickValues(tempTicks).tickFormat(d3.format(".1f")).tickSize(2).tickSizeOuter(0).tickPadding(5)).call(styleAxis);
svg.append("g").attr("transform","translate(140,0)")
  .call(d3.axisLeft(yRga).tickValues(rgaTickValues).tickFormat((d,i)=>rgaTickLabels[i]).tickSize(2).tickSizeOuter(0).tickPadding(6)).call(styleAxis);
svg.append("g").attr("transform","translate(74,0)")
  .call(d3.axisLeft(yBeam).tickValues(beamTicks).tickFormat(d3.format("d")).tickSize(2).tickSizeOuter(0).tickPadding(6)).call(styleAxis);

function vLabel(xx,t){svg.append("text").attr("transform",`translate(${xx},586) rotate(-90)`).attr("text-anchor","middle").attr("font-size",12).attr("fill","#333").text(t);}
vLabel(36,"Beam Current (mA)"); vLabel(90,"RGA data"); vLabel(155,"Temperature"); vLabel(212,"Vacuum Pressure");
svg.append("text").attr("x",906).attr("y",869).attr("text-anchor","middle").attr("font-size",12).attr("fill","#333")
  .attr("textLength",197).attr("lengthAdjust","spacingAndGlyphs").text("Main Time Axis (GMT+01:00)");
svg.append("rect").attr("x",1327).attr("y",863).attr("width",6).attr("height",6).attr("fill","#00ee00");

const navIcons = [
 "M-6,0L-1,-5L-1,-2L5,-2L5,2L-1,2L-1,5Z","M6,0L1,-5L1,-2L-5,-2L-5,2L1,2L1,5Z",
 "M0,-6L-5,-1L-2,-1L-2,5L2,5L2,-1L5,-1Z","M0,6L-5,1L-2,1L-2,-5L2,-5L2,1L5,1Z",
 "M-1,-6L-8,0L-1,6ZM1,-6L8,0L1,6Z","M-6,-1L0,-8L6,-1ZM-6,1L0,8L6,1Z",
 "M-8,-6L-1,0L-8,6ZM8,-6L1,0L8,6Z","M-6,-8L0,-1L6,-8ZM-6,8L0,1L6,8Z", null];
navIcons.forEach((p,i)=>{const bx=476+i*68.4; button(bx,890,68.4,31,null);
  if(p) UI.append("path").attr("d",p).attr("transform",`translate(${bx+34.2},905.5)`).attr("fill","#111");
  else label(bx+34.2,910,"...",{bold:true,anchor:"middle",size:11});});

// ================= ANNOTATIONS =================
const ann = svg.append("g").attr("font-family","'Liberation Serif','Times New Roman',serif");
ann.append("text").attr("x",512).attr("y",190).attr("font-size",50).attr("textLength",190).attr("lengthAdjust","spacingAndGlyphs").attr("fill","#000").text("Beam test");
ann.append("text").attr("x",753).attr("y",194).attr("font-size",50).attr("textLength",358).attr("lengthAdjust","spacingAndGlyphs").attr("fill","#000").text("Pulse conditioning");
ann.append("text").attr("x",1351).attr("y",461).attr("font-size",50).attr("textLength",163).attr("lengthAdjust","spacingAndGlyphs").attr("fill","#7030a0").text("O2 trace");
ann.append("text").attr("x",1303).attr("y",524).attr("font-size",48).attr("textLength",327).attr("lengthAdjust","spacingAndGlyphs").attr("fill","#000").text("P O Box vacuum");
ann.append("text").attr("transform","translate(1284,722) scale(1,1.14)").attr("font-size",42).attr("fill","#1f3fd0").text("Vacuum in the cavity");

function arrow(x0,y0,x1,y1,color){
  const a=Math.atan2(y1-y0,x1-x0), L=26, Wd=11, N=15;
  const nx=x1-N*Math.cos(a), ny=y1-N*Math.sin(a);
  ann.append("line").attr("x1",x0).attr("y1",y0).attr("x2",nx).attr("y2",ny).attr("stroke",color).attr("stroke-width",2);
  ann.append("path").attr("d",`M0,0L${-L},${-Wd}L${-N},0L${-L},${Wd}Z`).attr("transform",`translate(${x1},${y1}) rotate(${a*180/Math.PI})`).attr("fill",color);
}
[[585,442],[805,401],[1040,358],[1252,487]].forEach(t=>arrow(591,198,t[0],t[1],"#ff0000"));
[[701,532],[911,545],[1190,545]].forEach(t=>arrow(949,208,t[0],t[1],"#0000ff"));
</script></body></html>
